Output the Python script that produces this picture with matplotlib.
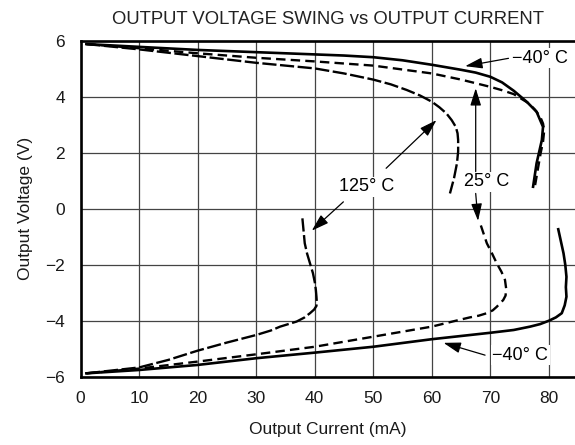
import matplotlib
matplotlib.use("Agg")
import matplotlib.pyplot as plt

plt.rcParams['font.family'] = ['Liberation Sans', 'DejaVu Sans']

# -40 C (solid)
m40_top_i = [1, 10, 20, 30, 40, 45, 50, 55, 60, 65, 67.5, 70, 72, 74, 76.2, 77.9, 79, 78.8, 77.9, 77.3]
m40_top_v = [5.89, 5.79, 5.68, 5.6, 5.52, 5.48, 5.42, 5.31, 5.15, 4.97, 4.87, 4.72, 4.52, 4.22, 3.83, 3.47, 2.93, 2.46,
             1.63, 0.79]
m40_bot_i = [1, 10, 20, 30, 40, 50, 60, 70, 74, 76.8, 78.5, 80, 81.2, 82.2, 82.7, 83, 82.9, 83, 82.8, 82.5, 81.6]
m40_bot_v = [-5.88, -5.76, -5.58, -5.34, -5.14, -4.93, -4.66, -4.43, -4.33, -4.21, -4.12, -4.0, -3.88, -3.73, -3.45,
             -3.14, -2.8, -2.43, -2.0, -1.59, -0.73]

# 25 C (dashed)
p25_top_i = [1, 10, 20, 30, 40, 50, 60, 65, 70, 72, 74, 76.5, 77.6, 78.5, 79.0, 79.2, 79.0, 78.6, 78.1, 77.6]
p25_top_v = [5.89, 5.74, 5.56, 5.4, 5.27, 5.12, 4.84, 4.62, 4.36, 4.24, 4.1, 3.78, 3.55, 3.3, 3.05, 2.8, 2.4, 2.0, 1.4, 0.79]
p25_bot_i = [1, 10, 20, 30, 40, 50, 60, 63.5, 66.5, 68, 69.4, 70.4, 71.1, 72.2, 72.6, 72.7, 72.5, 71.9, 71.1, 70.3,
             69.4, 68.1]
p25_bot_v = [-5.88, -5.71, -5.46, -5.2, -4.93, -4.57, -4.21, -4.03, -3.88, -3.82, -3.73, -3.63, -3.5, -3.26, -3.1,
             -2.85, -2.54, -2.25, -1.95, -1.6, -1.23, -0.42]

# 125 C (long dashes)
p125_top_i = [1, 10, 20, 30, 40, 45, 50, 53, 55.7, 58, 60, 61.3, 62.5, 63.4, 64.1, 64.4, 64.5, 64.5, 64.3, 63.8, 63.1]
p125_top_v = [5.89, 5.70, 5.46, 5.22, 5.02, 4.84, 4.62, 4.45, 4.25, 4.05, 3.83, 3.63, 3.41, 3.17, 2.93, 2.7, 2.46,
              2.05, 1.63, 1.1, 0.55]
p125_bot_i = [1, 10, 15, 20, 25, 30, 32.5, 34.1, 36.9, 38.2, 39.2, 39.9, 40.3, 40.35, 40.3, 40.2, 40.05, 39.7, 39.2,
              38.7, 38.3, 37.9]
p125_bot_v = [-5.88, -5.67, -5.4, -5.07, -4.78, -4.51, -4.35, -4.21, -4.03, -3.89, -3.73, -3.6, -3.47, -3.3, -3.14,
              -2.9, -2.66, -2.3, -1.95, -1.6, -1.23, -0.34]

x_ticks = [0, 10, 20, 30, 40, 50, 60, 70, 80]
y_ticks = [-6, -4, -2, 0, 2, 4, 6]

fig = plt.figure(figsize=(5.75, 4.45), dpi=100)
ax = fig.add_axes([0.14, 0.1535, 0.86, 0.7544])

ax.plot(m40_top_i, m40_top_v, color='black', lw=1.9, solid_joinstyle='round')
ax.plot(m40_bot_i, m40_bot_v, color='black', lw=1.9, solid_joinstyle='round')
ax.plot(p25_top_i, p25_top_v, color='black', lw=1.7, dashes=(4, 2.2))
ax.plot(p25_bot_i, p25_bot_v, color='black', lw=1.7, dashes=(4, 2.2))
ax.plot(p125_top_i, p125_top_v, color='black', lw=1.7, dashes=(6, 1.5))
ax.plot(p125_bot_i, p125_bot_v, color='black', lw=1.7, dashes=(6, 1.5))

ax.set_xlim(0, 84.46)
ax.set_ylim(-6, 6)
ax.set_xticks(x_ticks)
ax.set_yticks(y_ticks)
ax.grid(True, color='#444444', lw=0.9)
ax.set_axisbelow(True)
ax.tick_params(length=0, labelsize=12.5, labelcolor='#1a1a1a')
ax.tick_params(axis='x', pad=10)
ax.tick_params(axis='y', pad=11)
for s in ['left', 'bottom', 'top']:
    ax.spines[s].set_linewidth(1.9)
ax.spines['right'].set_visible(False)

ax.set_xlabel('Output Current (mA)', fontsize=12.5, color='#1a1a1a', labelpad=12)
ax.set_ylabel('Output Voltage (V)', fontsize=12.5, color='#1a1a1a', labelpad=9)
fig.text(0.5713, 0.957, 'OUTPUT VOLTAGE SWING vs OUTPUT CURRENT', ha='center',
         va='center', fontsize=13.3, color='#222222')

arrow = dict(arrowstyle='-|>,head_length=0.7,head_width=0.22', color='black',
             lw=0.9, shrinkA=0, shrinkB=0, mutation_scale=15)
box = dict(facecolor='white', edgecolor='none', pad=1.0)

ax.text(78.5, 5.38, '\u221240\u00b0 C', ha='center', va='center', fontsize=13, bbox=box)
ax.annotate('', xy=(65.7, 5.10), xytext=(73.1, 5.38), arrowprops=arrow)

ax.text(69.3, 0.97, '25\u00b0 C', ha='center', va='center', fontsize=13, bbox=box)
ax.annotate('', xy=(67.5, 4.31), xytext=(67.5, 1.33), arrowprops=arrow)
ax.annotate('', xy=(67.9, -0.43), xytext=(67.5, 0.55), arrowprops=arrow)

ax.text(48.9, 0.79, '125\u00b0 C', ha='center', va='center', fontsize=13, bbox=box)
ax.annotate('', xy=(60.8, 3.17), xytext=(52.2, 1.45), arrowprops=arrow)
ax.annotate('', xy=(39.5, -0.78), xytext=(44.9, 0.25), arrowprops=arrow)

ax.text(75.1, -5.23, '\u221240\u00b0 C', ha='center', va='center', fontsize=13, bbox=box)
ax.annotate('', xy=(62.0, -4.79), xytext=(69.1, -5.23), arrowprops=arrow)

fig.savefig('out.png', dpi=100)
